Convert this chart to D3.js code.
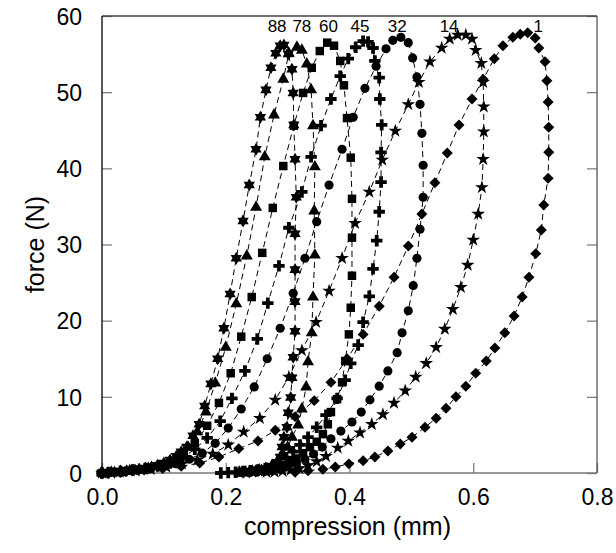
<!DOCTYPE html>
<html>
<head>
<meta charset="utf-8">
<script src="https://cdn.jsdelivr.net/npm/d3@7"></script>
<style>
  body { margin: 0; background: #fff; }
  svg { display: block; }
  text { font-family: "Liberation Sans", Arial, sans-serif; fill: #000; }
</style>
</head>
<body>
<svg id="chart" width="616" height="553"></svg>
<script>
// cycle numbers, in the order the labels run across the top
const cycles = ['88', '78', '60', '45', '32', '14', '1'];
// where each cycle label sits along the compression axis
const labelX = [0.283, 0.323, 0.366, 0.417, 0.477, 0.561, 0.705];

const xTicks = [0, 0.2, 0.4, 0.6, 0.8];
const yTicks = [0, 10, 20, 30, 40, 50, 60];

// [compression (mm), force (N)], loading branch then unloading branch
const c88 = [[0,0],[0.01,0.05],[0.02,0.1],[0.03,0.2],[0.04,0.3],[0.05,0.4],[0.06,0.5],[0.07,0.65],[0.08,0.8],[0.09,1.0],[0.10,1.3],[0.11,1.7],[0.12,2.2],[0.128,2.8],
  [0.137,3.4],[0.147,4.9],[0.157,6.4],[0.166,8.8],[0.176,11.7],[0.187,15.0],[0.197,19.0],[0.207,23.5],[0.217,28.2],[0.228,33.1],[0.238,37.8],[0.249,42.5],[0.256,46.7],[0.265,50.3],[0.273,53.2],[0.281,55.1],[0.288,56.1],[0.294,56.2],
  [0.301,55.0],[0.307,53.0],[0.309,49.9],[0.310,45.7],[0.312,41.2],[0.314,36.2],[0.312,31.4],[0.312,26.7],[0.312,22.5],[0.312,18.6],[0.309,15.2],[0.307,12.5],[0.305,9.9],[0.301,7.9],[0.299,6.0],[0.294,4.7],[0.291,3.4],[0.288,2.1],[0.283,1.4],[0.276,0.9],[0.268,0.6],[0.258,0.4],[0.248,0.25],[0.238,0.15],[0.228,0.1]];

const c78 = [[0,0],[0.015,0.1],[0.03,0.2],[0.045,0.3],[0.06,0.45],[0.075,0.6],[0.09,0.85],[0.105,1.2],[0.12,1.8],[0.139,3.4],[0.154,5.4],
  [0.168,8.0],[0.183,11.8],[0.200,16.5],[0.217,22.2],[0.234,28.5],[0.249,34.9],[0.263,41.5],[0.278,47.0],[0.293,51.7],[0.302,55.1],[0.315,55.9],
  [0.323,55.5],[0.331,53.7],[0.338,50.3],[0.341,45.6],[0.344,40.2],[0.343,34.4],[0.344,28.6],[0.341,23.1],[0.339,18.4],[0.333,14.6],[0.330,11.3],[0.323,8.4],[0.317,6.3],[0.307,4.7],[0.300,3.4],[0.292,2.4],[0.284,1.6],[0.275,1.0],[0.265,0.6],[0.254,0.4],[0.243,0.25],[0.232,0.15],[0.222,0.1]];

const c60 = [[0,0],[0.024,0.15],[0.042,0.3],[0.060,0.45],[0.078,0.7],[0.096,1.0],[0.114,1.6],[0.132,2.5],
  [0.150,3.9],[0.170,6.2],[0.189,9.2],[0.208,13.1],[0.225,17.9],[0.242,23.1],[0.259,28.9],[0.276,34.8],[0.293,40.3],[0.310,45.6],[0.325,49.9],[0.339,53.2],[0.352,55.4],[0.364,56.5],[0.375,56.1],
  [0.385,54.1],[0.391,50.9],[0.396,46.6],[0.402,41.4],[0.404,36.0],[0.404,30.9],[0.404,25.9],[0.402,21.7],[0.399,18.2],[0.393,14.7],[0.388,11.9],[0.380,9.7],[0.370,8.0],[0.365,6.4],[0.357,5.1],[0.347,4.1],[0.336,3.4],[0.325,2.6],[0.314,1.9],[0.303,1.3],[0.292,0.9],[0.281,0.6],[0.270,0.4],[0.258,0.3],[0.246,0.2],[0.234,0.1],[0.222,0.05]];

const c45 = [[0,0],[0.010,0.05],[0.030,0.2],[0.050,0.4],[0.070,0.6],[0.090,0.9],[0.110,1.3],[0.130,2.0],[0.150,3.1],
  [0.170,4.6],[0.191,6.8],[0.210,9.8],[0.231,13.4],[0.251,17.6],[0.268,22.3],[0.286,27.2],[0.302,32.2],[0.323,36.9],[0.338,41.5],[0.354,45.6],[0.370,49.1],[0.385,52.1],[0.398,54.4],[0.410,55.9],[0.422,56.7],[0.430,56.6],
  [0.438,55.8],[0.441,54.1],[0.448,51.9],[0.449,49.1],[0.452,45.7],[0.451,42.1],[0.451,38.2],[0.448,34.3],[0.444,30.5],[0.438,26.8],[0.432,23.2],[0.422,19.8],[0.414,16.8],[0.402,14.4],[0.393,12.2],[0.380,9.8],[0.362,7.6],[0.347,6.0],[0.333,4.7],[0.320,3.7],[0.309,2.8],[0.298,2.0],[0.287,1.4],[0.276,0.9],[0.264,0.6],[0.252,0.4],[0.240,0.3],[0.228,0.2],[0.216,0.1],[0.204,0.05],[0.192,0]];

const c32 = [[0,0],[0.015,0.08],[0.036,0.2],[0.057,0.35],[0.078,0.55],[0.099,0.8],[0.120,1.2],[0.141,1.8],[0.162,2.6],
  [0.183,3.9],[0.204,5.9],[0.225,8.4],[0.246,11.3],[0.267,15.0],[0.288,19.0],[0.309,23.6],[0.328,28.2],[0.347,33.0],[0.367,37.8],[0.388,42.5],[0.406,46.7],[0.425,50.5],[0.443,53.4],[0.459,55.7],[0.470,56.8],[0.483,57.2],
  [0.495,56.5],[0.502,54.5],[0.509,52.0],[0.514,48.4],[0.517,44.6],[0.519,40.4],[0.519,36.2],[0.514,32.0],[0.509,28.2],[0.503,24.6],[0.495,21.3],[0.485,18.4],[0.477,15.8],[0.462,13.4],[0.448,11.4],[0.433,9.6],[0.419,8.0],[0.404,6.7],[0.386,5.5],[0.370,4.5],[0.356,3.4],[0.342,2.5],[0.328,1.8],[0.314,1.2],[0.300,0.8],[0.287,0.5],[0.274,0.3],[0.262,0.2],[0.250,0.1],[0.238,0.05]];

const c14 = [[0,0],[0.029,0.15],[0.054,0.3],[0.079,0.5],[0.104,0.8],[0.129,1.2],[0.154,1.7],
  [0.179,2.5],[0.204,3.7],[0.229,5.4],[0.255,7.2],[0.280,9.6],[0.302,12.6],[0.323,16.1],[0.346,19.8],[0.367,23.9],[0.388,28.2],[0.409,32.8],[0.432,36.9],[0.453,41.1],[0.474,44.9],[0.495,48.4],[0.512,51.3],[0.530,54.0],[0.549,55.8],[0.562,57.0],[0.575,57.5],[0.588,57.5],
  [0.598,57.0],[0.604,55.5],[0.613,53.8],[0.616,51.3],[0.617,48.1],[0.617,44.8],[0.616,41.2],[0.614,37.5],[0.608,34.0],[0.600,30.6],[0.591,27.3],[0.580,24.4],[0.567,21.5],[0.554,18.9],[0.540,16.5],[0.524,14.4],[0.507,12.6],[0.490,10.8],[0.472,9.2],[0.454,7.7],[0.436,6.4],[0.417,5.3],[0.398,4.2],[0.381,3.3],[0.362,2.2],[0.347,1.5],[0.333,1.0],[0.319,0.6],[0.305,0.4],[0.292,0.25],[0.279,0.15],[0.266,0.1]];

const c1 = [[0,0],[0.038,0.2],[0.068,0.4],[0.098,0.6],[0.128,0.9],
  [0.158,1.3],[0.189,2.1],[0.221,3.2],[0.252,4.2],[0.280,5.6],[0.312,7.4],[0.343,9.5],[0.370,11.9],[0.396,15.0],[0.422,18.2],[0.448,21.9],[0.472,25.7],[0.495,29.8],[0.517,34.0],[0.538,38.1],[0.558,42.0],[0.577,45.7],[0.598,49.1],[0.616,51.7],[0.634,54.4],[0.648,56.1],[0.664,57.2],[0.676,57.6],[0.688,57.8],
  [0.700,57.1],[0.706,55.8],[0.716,54.0],[0.719,51.5],[0.721,48.7],[0.722,45.4],[0.722,42.1],[0.721,38.7],[0.714,35.2],[0.710,31.9],[0.701,28.8],[0.690,25.7],[0.679,23.1],[0.666,20.6],[0.651,18.4],[0.635,16.4],[0.621,14.7],[0.604,13.1],[0.588,11.4],[0.572,10.0],[0.556,8.5],[0.540,7.2],[0.522,6.0],[0.501,4.7],[0.482,3.8],[0.462,2.9],[0.441,2.1],[0.422,1.6],[0.399,1.2],[0.377,0.8],[0.357,0.5],[0.333,0.3],[0.312,0.1]];

const seriesData = [c88, c78, c60, c45, c32, c14, c1];

// six-pointed star and square-ish diamond are not in d3's symbol set
const symbolHexagram = {
  draw(ctx, size) {
    const r = Math.sqrt(size) * 0.78;
    for (const rot of [-Math.PI / 2, Math.PI / 2]) {
      for (let i = 0; i < 3; i++) {
        const a = rot + i * 2 * Math.PI / 3;
        if (i === 0) ctx.moveTo(r * Math.cos(a), r * Math.sin(a));
        else ctx.lineTo(r * Math.cos(a), r * Math.sin(a));
      }
      ctx.closePath();
    }
  }
};
const symbolRhomb = {
  draw(ctx, size) {
    const r = Math.sqrt(size) * 0.72;
    ctx.moveTo(0, -r); ctx.lineTo(r, 0); ctx.lineTo(0, r); ctx.lineTo(-r, 0); ctx.closePath();
  }
};

const markers = [
  { type: symbolHexagram, size: 70 },
  { type: d3.symbolTriangle, size: 62 },
  { type: d3.symbolSquare, size: 72 },
  { type: d3.symbolCross, size: 72 },
  { type: d3.symbolCircle, size: 66 },
  { type: d3.symbolStar, size: 58 },
  { type: symbolRhomb, size: 58 }
];

const margin = { top: 16, right: 19, bottom: 80, left: 102 };
const width = 616 - margin.left - margin.right;
const height = 553 - margin.top - margin.bottom;

const svg = d3.select('#chart');
const g = svg.append('g').attr('transform', `translate(${margin.left},${margin.top})`);

const x = d3.scaleLinear().domain([0, 0.8]).range([0, width]);
const y = d3.scaleLinear().domain([0, 60]).range([height, 0]);

// axes with inward ticks, frame drawn separately
const xAxis = g.append('g')
  .attr('transform', `translate(0,${height})`)
  .call(d3.axisBottom(x).tickValues(xTicks).tickFormat(d3.format('.1f')).tickSizeInner(-10).tickSizeOuter(0).tickPadding(16));
const yAxis = g.append('g')
  .call(d3.axisLeft(y).tickValues(yTicks).tickFormat(d3.format('d')).tickSizeInner(-10).tickSizeOuter(0).tickPadding(20));
const yAxisRight = g.append('g')
  .attr('transform', `translate(${width},0)`)
  .call(d3.axisRight(y).tickValues(yTicks).tickSizeInner(-10).tickSizeOuter(0).tickFormat(''));

[xAxis, yAxis, yAxisRight].forEach((a) => {
  a.select('.domain').remove();
  a.selectAll('.tick line').attr('stroke', '#808080').attr('stroke-width', 1.3);
  a.selectAll('.tick text').attr('font-size', 23).attr('font-family', null).attr('fill', '#000');
});
yAxis.selectAll('.tick text').attr('dy', '0.36em');

// frame: left edge black, the rest grey
g.append('line').attr('x1', width).attr('x2', width).attr('y1', 0).attr('y2', height).attr('stroke', '#555').attr('stroke-width', 1.3);
g.append('line').attr('x1', 0).attr('x2', width).attr('y1', 0).attr('y2', 0).attr('stroke', '#444').attr('stroke-width', 1.3);
g.append('line').attr('x1', 0).attr('x2', width).attr('y1', height).attr('y2', height).attr('stroke', '#777').attr('stroke-width', 1.5);
g.append('line').attr('x1', 0).attr('x2', 0).attr('y1', 0).attr('y2', height).attr('stroke', '#000').attr('stroke-width', 1.3);

// dashed connecting lines
const line = d3.line().x((d) => x(d[0])).y((d) => y(d[1]));
g.append('g').selectAll('path')
  .data(seriesData)
  .join('path')
  .attr('d', line)
  .attr('fill', 'none')
  .attr('stroke', '#000')
  .attr('stroke-width', 1)
  .attr('stroke-dasharray', '6,4');

// markers on top of the lines
seriesData.forEach((pts, i) => {
  const sym = d3.symbol().type(markers[i].type).size(markers[i].size);
  g.append('g').selectAll('path')
    .data(pts)
    .join('path')
    .attr('transform', (d) => `translate(${x(d[0])},${y(d[1])})`)
    .attr('d', sym)
    .attr('fill', '#000');
});

// cycle labels along the top
g.append('g').selectAll('text')
  .data(cycles)
  .join('text')
  .attr('x', (d, i) => x(labelX[i]))
  .attr('y', 16)
  .attr('text-anchor', 'middle')
  .attr('font-size', 17)
  .text((d) => d);

// axis titles
svg.append('text')
  .attr('x', margin.left + width / 2 - 2)
  .attr('y', 535)
  .attr('text-anchor', 'middle')
  .attr('font-size', 25)
  .text('compression (mm)');

svg.append('text')
  .attr('transform', `translate(44,${margin.top + height / 2}) rotate(-90)`)
  .attr('text-anchor', 'middle')
  .attr('font-size', 25)
  .text('force (N)');
</script>
</body>
</html>
